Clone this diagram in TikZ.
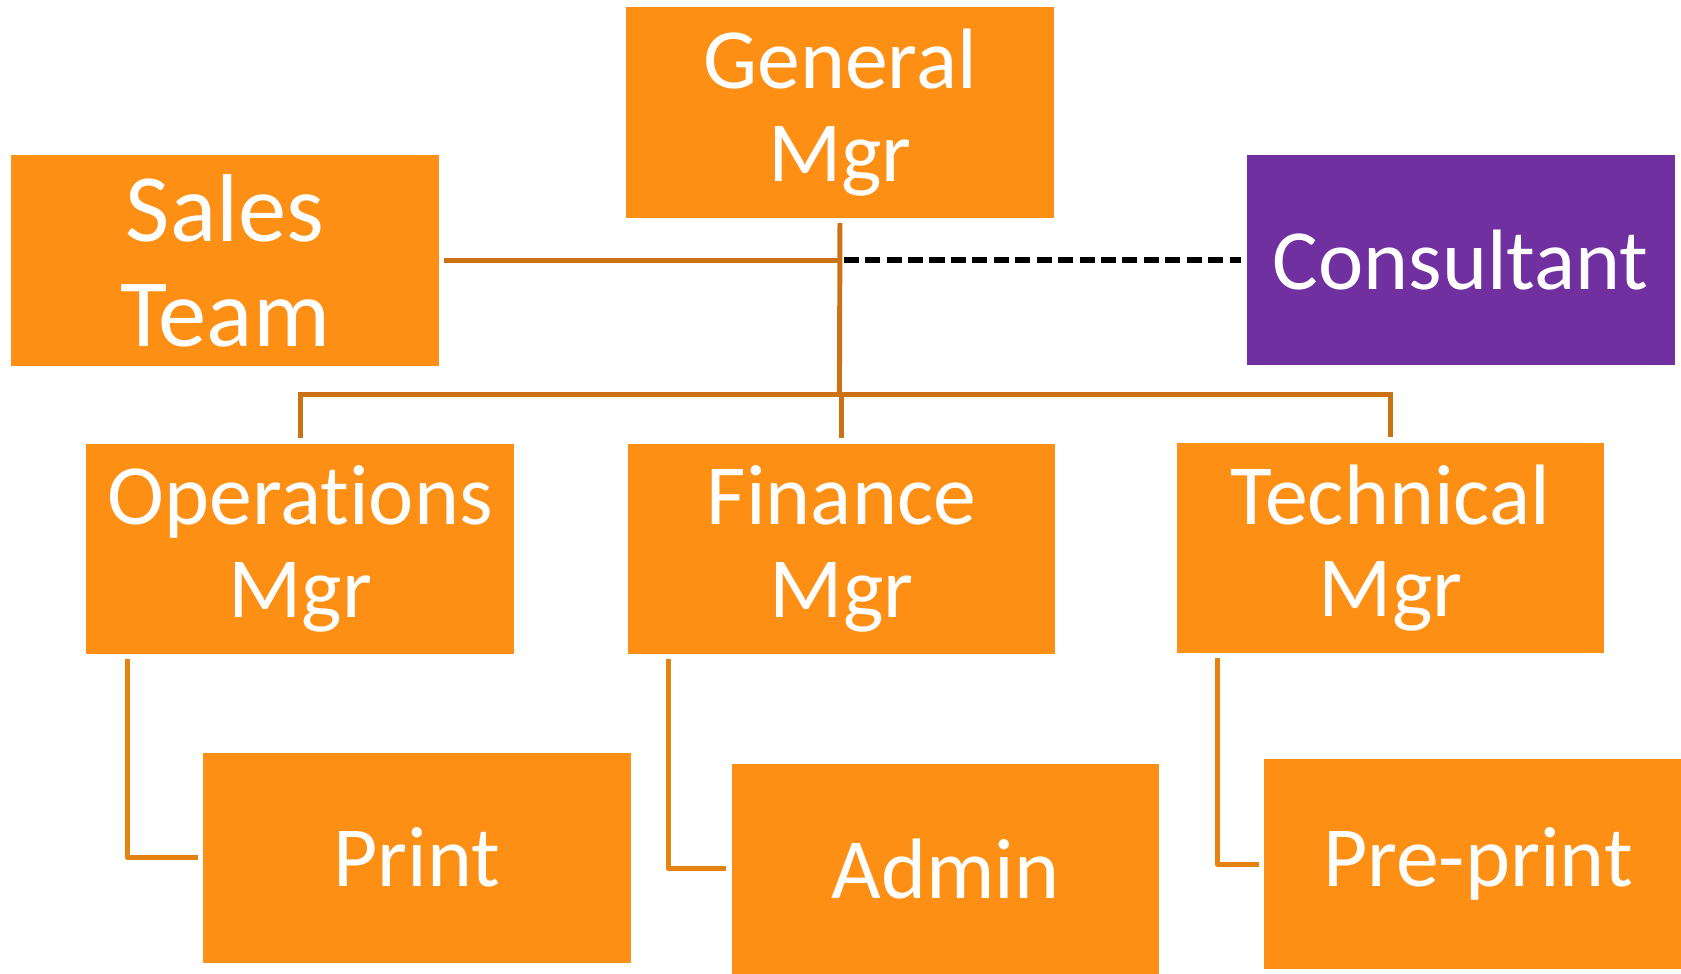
\documentclass[tikz,border=0pt]{standalone}
\usepackage{fontspec}
\setmainfont{Carlito}[Ligatures={NoCommon}]
\definecolor{boxorange}{RGB}{253,143,20}
\definecolor{consPurple}{RGB}{112,48,160}
\definecolor{lineTop}{RGB}{204,114,22}
\definecolor{lineLow}{RGB}{228,130,18}
\tikzset{
  orgbox/.style={fill=boxorange, minimum width=199.5pt, minimum height=98pt, inner sep=0pt, outer sep=0pt,
    text=white, align=center, font=\fontsize{40pt}{43pt}\selectfont},
  bigbox/.style={orgbox, font=\fontsize{45pt}{49pt}\selectfont},
  consbox/.style={orgbox, fill=consPurple},
  connTop/.style={draw=lineTop, line width=2.3pt},
  connLow/.style={draw=lineLow, line width=2.3pt, line join=round},
  dashline/.style={draw=black, line width=2.5pt, dash pattern=on 7pt off 3pt}
}
\begin{document}
\begin{tikzpicture}[x=0.5pt,y=-0.5pt]
\useasboundingbox (0,0) rectangle (1568,908);
\node[orgbox] (gm) at (783.5,105) {General\\Mgr};
\node[bigbox] (sales) at (210,243) {Sales\\Team};
\node[consbox] (cons) at (1362.5,242.5) {Consultant};
\node[orgbox] (ops) at (280,512) {Operations\\Mgr};
\node[orgbox] (fin) at (785,512) {Finance\\Mgr};
\node[orgbox] (tech) at (1297,511) {Technical\\Mgr};
\node[orgbox] (print) at (389,800) {Print};
\node[orgbox] (admin) at (882,810.5) {Admin};
\node[orgbox] (pre) at (1378.5,806) {Pre-print};
\coordinate (busC) at (783,368);
% trunk
\draw[connTop] ([yshift=-2.5pt]gm.south) -- (busC);
\draw[connTop] ([xshift=2.5pt]sales.east) -- (sales.east -| busC);
\draw[dashline] (cons.west -| busC) ++(2pt,0) -- ([xshift=-2.5pt]cons.west);
% bus
\draw[connTop] ([yshift=2.5pt]ops.north) -- (ops.north |- busC) -- (tech.north |- busC) -- ([yshift=2.5pt]tech.north);
\draw[connTop] (fin.north |- busC) -- ([yshift=2.5pt]fin.north);
% lower connectors
\draw[connLow] ([shift={(19pt,-2.5pt)}]ops.south west) |- ([xshift=-2.5pt]print.west);
\draw[connLow] ([shift={(19pt,-2.5pt)}]fin.south west) |- ([xshift=-2.5pt]admin.west);
\draw[connLow] ([shift={(19pt,-2.5pt)}]tech.south west) |- ([xshift=-2.5pt]pre.west);
\end{tikzpicture}
\end{document}
